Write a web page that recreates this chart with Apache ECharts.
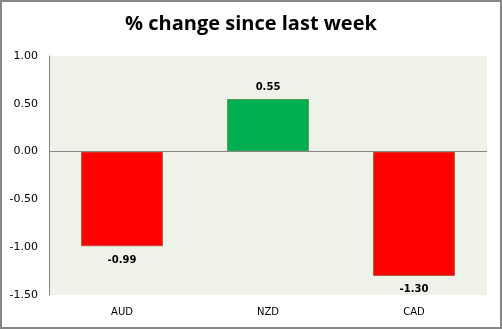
<!DOCTYPE html>
<html>
<head>
<meta charset="utf-8">
<script src="https://cdn.jsdelivr.net/npm/echarts@6/dist/echarts.min.js"></script>
<style>
html,body{margin:0;padding:0;background:#fff;}
#c{width:502px;height:329px;box-sizing:border-box;border:2px solid #868686;}
</style>
</head>
<body>
<div id="c"></div>
<script>
const categories = ['AUD', 'NZD', 'CAD'];
const values = [-0.99, 0.55, -1.30];
const yTicks = { min: -1.5, max: 1.0, interval: 0.5 };

const chart = echarts.init(document.getElementById('c'));
const data = values.map(v => ({
  value: v,
  itemStyle: v >= 0
    ? { color: '#00B050', borderColor: '#4E9A4E', borderWidth: 1 }
    : { color: '#FF0000', borderColor: '#B5503A', borderWidth: 1 },
  label: { position: v >= 0 ? 'top' : 'bottom', distance: v >= 0 ? 7 : 9 }
}));
chart.setOption({
  animation: false,
  title: {
    text: '% change since last week',
    left: 'center', top: 7,
    textStyle: { fontFamily: 'Open Sans', fontWeight: 'bold', fontSize: 20, color: '#000' }
  },
  grid: { left: 47, right: 13, top: 54, bottom: 32, show: true, backgroundColor: '#EFF2E9', borderWidth: 0 },
  xAxis: {
    type: 'category', data: categories,
    axisLine: { show: false }, axisTick: { show: false },
    axisLabel: { fontFamily: 'DejaVu Sans', fontSize: 10, color: '#000', margin: 12 }
  },
  yAxis: {
    type: 'value', min: yTicks.min, max: yTicks.max, interval: yTicks.interval,
    axisLine: { show: true, lineStyle: { color: '#868686' } },
    axisTick: { show: false },
    splitLine: { show: false },
    axisLabel: { fontFamily: 'DejaVu Sans', fontSize: 11, color: '#000', margin: 11,
      formatter: v => v.toFixed(2) }
  },
  series: [{
    type: 'bar', data: data, barWidth: '56%',
    label: { show: true, fontFamily: 'DejaVu Sans', fontWeight: 'bold', fontSize: 10, color: '#000',
      formatter: p => p.value.toFixed(2) },
    markLine: {
      silent: true, symbol: 'none', label: { show: false },
      lineStyle: { color: '#868686', type: 'solid', width: 1 },
      data: [{ yAxis: 0 }]
    }
  }]
});
</script>
</body>
</html>
